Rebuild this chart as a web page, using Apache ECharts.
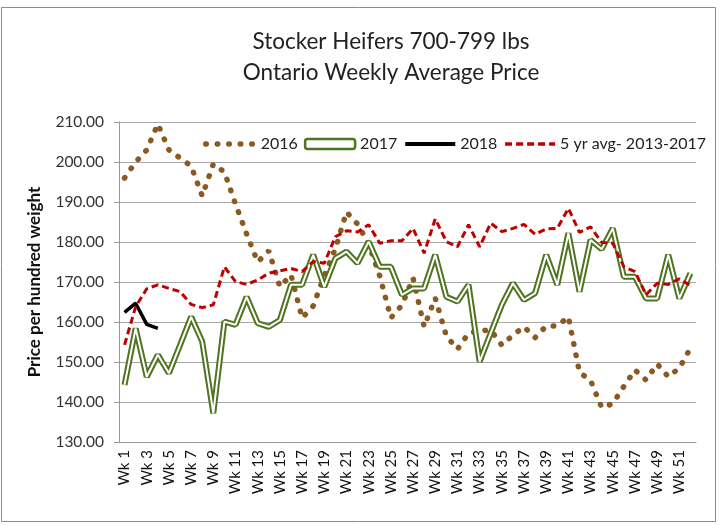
<!DOCTYPE html>
<html>
<head>
<meta charset="utf-8">
<script src="https://cdn.jsdelivr.net/npm/echarts@6/dist/echarts.min.js"></script>
<style>
  html, body { margin: 0; padding: 0; background: #fff; }
  #chart { width: 723px; height: 525px; }
</style>
</head>
<body>
<div id="chart"></div>
<script>
// weeks 1..52
var weeks = [];
for (var w = 1; w <= 52; w++) weeks.push('Wk ' + w);

var y2016 = [196, 200, 203, 209.5, 203, 201, 199, 191.5, 199.5, 197.5,
  189.5, 182, 175, 177.8, 168.8, 171.8, 161, 164, 171.6, 178.3,
  187.5, 184.5, 179.5, 171.5, 161, 164.2, 171, 158.8, 166, 156.5,
  153.2, 157.2, 157.8, 158, 154.2, 156.7, 158.8, 156.1, 159, 159,
  161.3, 147.4, 145.4, 138.6, 139.6, 143.9, 148, 145.5, 149.5, 146.3,
  148.5, 153.5];

var y2017 = [144.3, 158.4, 146.3, 151.8, 147.2, 154.2, 161.3, 155.1, 137.2, 160.1,
  159.3, 166.3, 159.7, 158.8, 160.5, 169.3, 169.3, 176.8, 168.8, 175.9,
  177.6, 174.7, 180.1, 173.8, 173.8, 166.8, 168.4, 168.4, 176.8, 166.3,
  165.1, 169.3, 150.1, 157.2, 164.3, 169.7, 165.5, 167.2, 176.8, 169.3,
  182.2, 167.6, 180.5, 178.2, 183.4, 171.3, 171.3, 165.9, 165.9, 176.8,
  165.9, 172.2];

var y2018 = [162.4, 164.7, 159.4, 158.4];

var avg5yr = [154.3, 163.8, 168.3, 169.3, 168.4, 167.6, 164.4, 163.6, 164.3, 173.8,
  170.1, 169.4, 170.5, 172.2, 172.8, 173.4, 172.6, 175.1, 174.7, 181.3,
  182.8, 182.5, 184.3, 179.7, 180.3, 180.3, 183.4, 177.2, 185.8, 180.1,
  178.8, 184.3, 178.8, 184.7, 182.6, 183.4, 184.4, 181.9, 183.3, 183.4,
  188.4, 182.4, 183.8, 179.9, 179.7, 173.8, 172.6, 166.8, 169.7, 169.4,
  170.8, 169.1];

var green = '#4f7420';
var brown = '#8a5a22';
var red = '#c00000';
var font = "Lato, 'Liberation Sans', sans-serif";

var myChart = echarts.init(document.getElementById('chart'));
var option = {
  animation: false,
  textStyle: { fontFamily: font },
  title: {
    text: 'Stocker Heifers 700-799 lbs\nOntario Weekly Average Price',
    left: 386,
    top: 21,
    textAlign: 'center',
    textStyle: { fontSize: 22.5, fontWeight: 'normal', color: '#222', lineHeight: 31, fontFamily: font }
  },
  legend: {
    left: 198,
    top: 131,
    width: 525,
    itemWidth: 50,
    itemHeight: 10,
    itemGap: 6,
    textStyle: { fontSize: 16, color: '#222', fontFamily: font },
    data: [
      { name: '2016', itemStyle: { opacity: 0 }, lineStyle: { width: 5.5 } },
      { name: '2017', icon: 'roundRect', itemStyle: { color: '#fff', borderColor: green, borderWidth: 2.5 } },
      { name: '2018', itemStyle: { opacity: 0 }, lineStyle: { width: 4 } },
      { name: '5 yr avg- 2013-2017', itemStyle: { opacity: 0 }, lineStyle: { width: 3.5, type: [7, 4] } }
    ]
  },
  grid: { left: 119, right: 27, top: 122, bottom: 83 },
  xAxis: {
    type: 'category',
    data: weeks,
    boundaryGap: true,
    axisLine: { lineStyle: { color: '#999' } },
    axisTick: { interval: 0, length: 5, lineStyle: { color: '#999' } },
    axisLabel: { interval: 1, rotate: 90, fontSize: 15, color: '#111', margin: 8, fontFamily: font }
  },
  yAxis: {
    type: 'value',
    min: 130,
    max: 210,
    interval: 10,
    name: 'Price per hundred weight',
    nameLocation: 'middle',
    nameGap: 76,
    nameTextStyle: { fontSize: 17, fontWeight: 'bold', color: '#111', fontFamily: font },
    axisLine: { show: true, lineStyle: { color: '#999' } },
    axisTick: { show: true, length: 5, lineStyle: { color: '#999' } },
    splitLine: { lineStyle: { color: '#a6a6a6', width: 1.2 } },
    axisLabel: {
      fontSize: 15.5, color: '#333', margin: 15, fontFamily: font,
      formatter: function (v) { return v.toFixed(2); }
    }
  },
  series: [
    {
      name: '2016', type: 'line', data: y2016, symbol: 'none',
      lineStyle: { color: brown, width: 5.5, type: [0.5, 11], cap: 'round' },
      itemStyle: { color: brown }
    },
    {
      name: '2017', type: 'line', data: y2017, symbol: 'none',
      lineStyle: { color: green, width: 6 },
      itemStyle: { color: green }
    },
    {
      name: '2017 inner', type: 'line', data: y2017, symbol: 'none',
      lineStyle: { color: '#fff', width: 2 },
      itemStyle: { color: '#fff' }
    },
    {
      name: '2018', type: 'line', data: y2018, symbol: 'none',
      lineStyle: { color: '#000', width: 3.5 },
      itemStyle: { color: '#000' }
    },
    {
      name: '5 yr avg- 2013-2017', type: 'line', data: avg5yr, symbol: 'none',
      lineStyle: { color: red, width: 3, type: [7, 4] },
      itemStyle: { color: red }
    }
  ],
  graphic: [
    {
      type: 'rect',
      shape: { x: 1.5, y: 7.5, width: 714, height: 514 },
      style: { fill: null, stroke: '#8c8c8c', lineWidth: 1 },
      silent: true
    }
  ]
};
myChart.setOption(option);
</script>
</body>
</html>
